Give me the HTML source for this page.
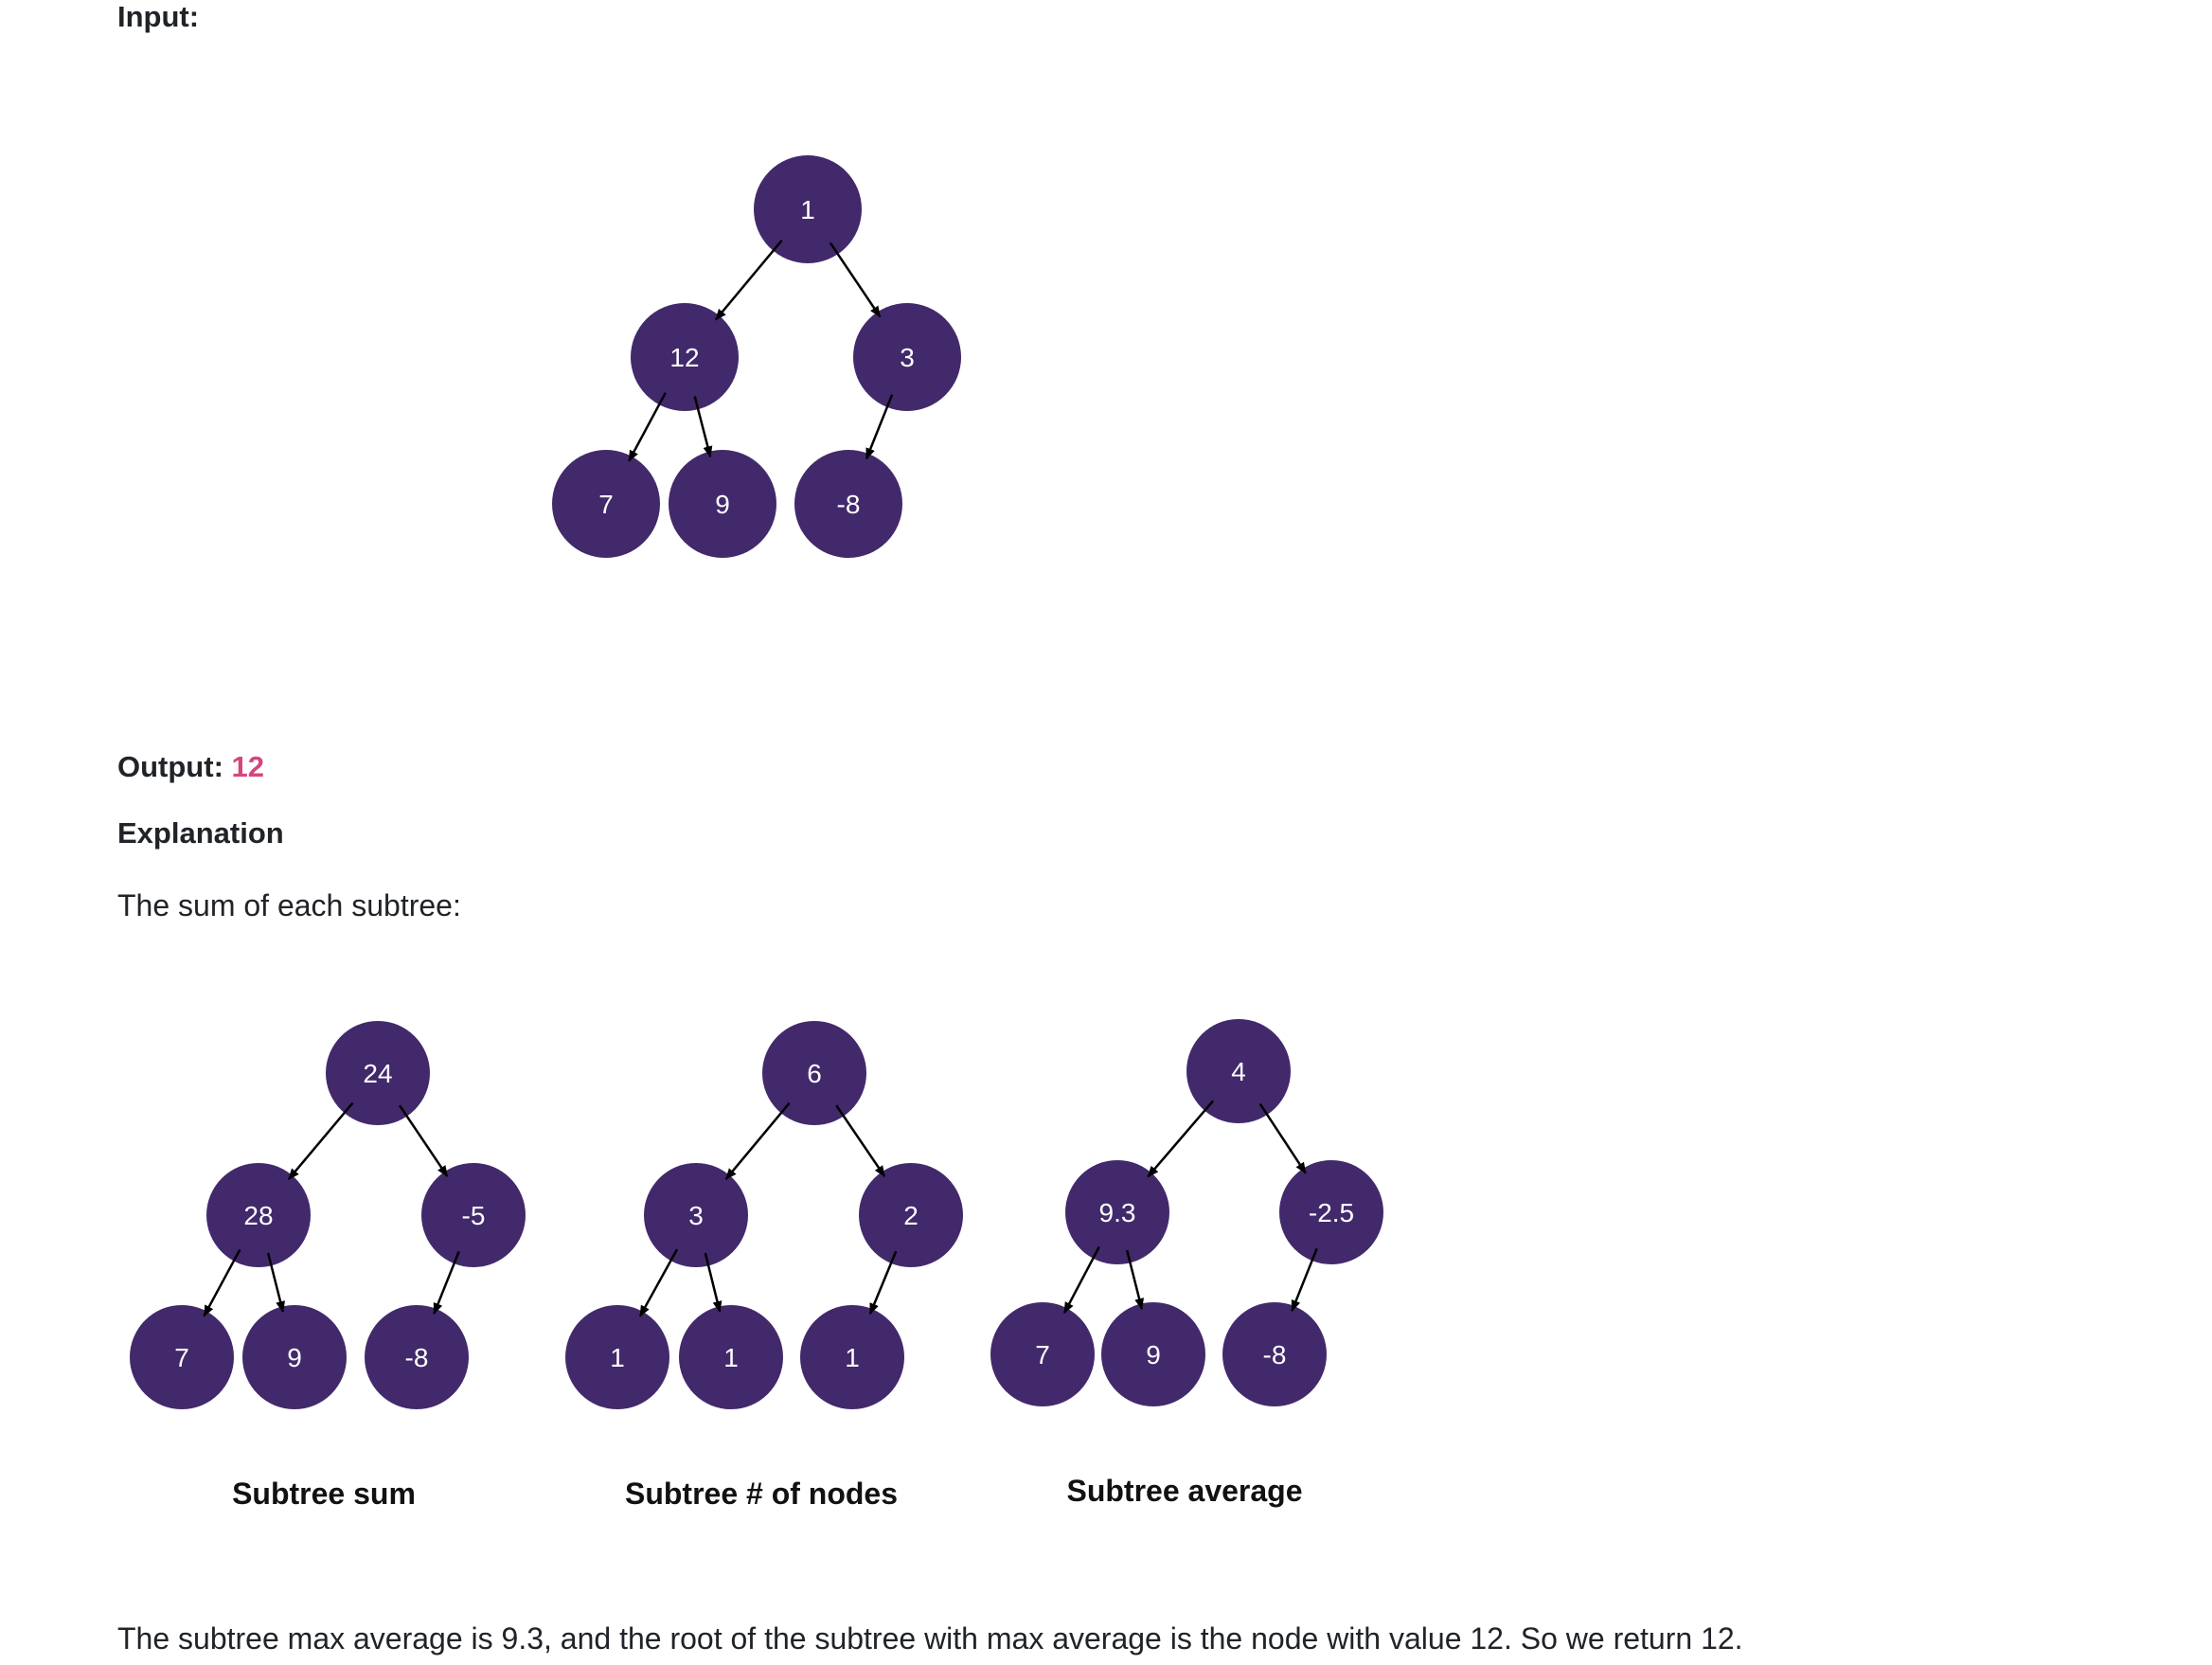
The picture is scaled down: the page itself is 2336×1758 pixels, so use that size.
<!DOCTYPE html>
<html><head><meta charset="utf-8">
<style>
html,body{margin:0;padding:0;background:#fff;}
body{width:2336px;height:1758px;position:relative;overflow:hidden;font-family:"Liberation Sans",sans-serif;color:#202328;}
.t{position:absolute;left:124px;font-size:31px;white-space:nowrap;line-height:1;}
.b{font-weight:bold;}
svg{position:absolute;left:0;top:0;}
</style></head><body>
<div class="t b" style="top:2px">Input:</div>
<div class="t b" style="top:794px">Output: <span style="color:#d6457f">12</span></div>
<div class="t b" style="top:864px">Explanation</div>
<div class="t" style="top:940px;font-size:32px">The sum of each subtree:</div>
<div class="t" style="top:1714px;font-size:32px">The subtree max average is 9.3, and the root of the subtree with max average is the node with value 12. So we return 12.</div>
<svg id="s" width="2336" height="1758">
<defs><marker id="ah" markerWidth="12" markerHeight="10" refX="11" refY="5" orient="auto" markerUnits="userSpaceOnUse"><path d="M0,0 L12,5 L0,10 z" fill="#000"/></marker></defs>
</svg>
<script>
const inputLabels=["1","12","3","7","9","-8"];
const sumLabels=["24","28","-5","7","9","-8"];
const countLabels=["6","3","2","1","1","1"];
const avgLabels=["4","9.3","-2.5","7","9","-8"];
const captions=["Subtree sum","Subtree # of nodes","Subtree average"];
const edges=[[0,1],[0,2],[1,3],[1,4],[2,5]];
const NS="http://www.w3.org/2000/svg";
const svg=document.getElementById('s');
function mk(t,a){const e=document.createElementNS(NS,t);for(const k in a)e.setAttribute(k,a[k]);svg.appendChild(e);return e;}
function tree(name,labels,pos,r){
  labels.forEach((lab,i)=>{
    const c=mk('circle',{cx:pos[i][0],cy:pos[i][1],r:r,fill:'#42296b'});
    
    
    const t=mk('text',{x:pos[i][0],y:pos[i][1]+10,'text-anchor':'middle','font-size':28,fill:'#fff','font-family':'Liberation Sans, sans-serif'});
    t.textContent=lab;
    
    
  });
  edges.forEach(([p,c])=>{
    const [x1,y1]=pos[p],[x2,y2]=pos[c];
    const dx=x2-x1,dy=y2-y1,d=Math.hypot(dx,dy);
    const l=mk('line',{x1:x1+dx/d*(r*0.75),y1:y1+dy/d*(r*0.75),x2:x2-dx/d*(r*0.9),y2:y2-dy/d*(r*0.9),stroke:'#000','stroke-width':2.5,'marker-end':'url(#ah)'});
    
    
  });
}
tree('input-tree',inputLabels,[[853,221],[723,377],[958,377],[640,532],[763,532],[896,532]],57);
tree('sum-tree',sumLabels,[[399,1133],[273,1283],[500,1283],[192,1433],[311,1433],[440,1433]],55);
tree('count-tree',countLabels,[[860,1133],[735,1283],[962,1283],[652,1433],[772,1433],[900,1433]],55);
tree('avg-tree',avgLabels,[[1308,1131],[1180,1280],[1406,1280],[1101,1430],[1218,1430],[1346,1430]],55);
const capX=[342,804,1251],capY=[1588,1588,1585];
captions.forEach((c,i)=>{
  const t=mk('text',{x:capX[i],y:capY[i],'text-anchor':'middle','font-size':32,'font-weight':'bold',fill:'#111','font-family':'Liberation Sans, sans-serif'});
  t.textContent=c;
  
  
});
</script>
</body></html>
